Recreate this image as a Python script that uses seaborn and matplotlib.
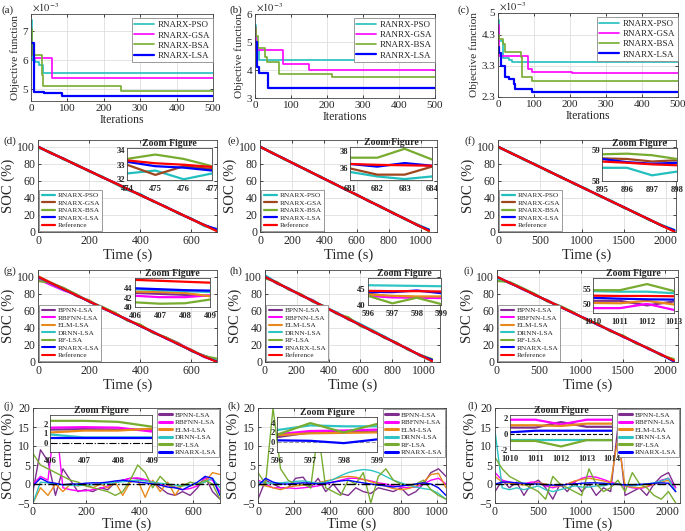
import matplotlib
matplotlib.use("Agg")
import matplotlib.pyplot as plt
import seaborn as sns

# ------------------------------------------------------------------ data
# Row 1: convergence curves (objective value, x10^-3), step breakpoints
a_it_pso = [0, 3, 12, 22, 33, 500];            a_pso = [7.38, 6.02, 5.95, 5.85, 5.58, 5.58]
a_it_gsa = [0, 8, 57, 500];                    a_gsa = [6.38, 6.08, 5.38, 5.38]
a_it_bsa = [0, 3, 27, 30, 33, 248, 500];       a_bsa = [7.10, 6.20, 6.20, 5.50, 5.12, 4.95, 4.95]
a_it_lsa = [0, 8, 35, 85, 500];                a_lsa = [6.60, 4.92, 4.87, 4.78, 4.78]

b_it_pso = [0, 3, 10, 500];                    b_pso = [5.60, 4.70, 4.35, 4.35]
b_it_gsa = [0, 3, 78, 150, 500];               b_gsa = [5.50, 4.71, 4.21, 3.99, 3.99]
b_it_bsa = [0, 3, 8, 28, 33, 68, 215, 500];    b_bsa = [5.50, 5.22, 4.77, 4.45, 4.29, 3.85, 3.74, 3.74]
b_it_lsa = [0, 5, 10, 37, 500];                b_lsa = [5.00, 4.11, 3.90, 3.34, 3.34]

c_it_pso = [0, 3, 15, 30, 40, 500];            c_pso = [4.76, 4.10, 3.55, 3.50, 3.44, 3.44]
c_it_gsa = [0, 3, 84, 95, 205, 500];           c_gsa = [4.60, 3.62, 3.20, 3.09, 3.06, 3.06]
c_it_bsa = [0, 3, 15, 20, 65, 68, 95, 500];    c_bsa = [4.30, 4.15, 4.00, 3.75, 3.60, 2.93, 2.82, 2.82]
c_it_lsa = [0, 3, 8, 20, 30, 45, 48, 95, 500]; c_lsa = [3.92, 3.70, 3.30, 2.93, 2.88, 2.71, 2.57, 2.45, 2.45]

# Row 2: SOC estimation, optimisers
d_t = [0, 50, 100, 150, 200, 250, 300, 350, 400, 450, 500, 550, 600, 650, 700]
d_ref = [100, 92.9, 85.9, 78.8, 71.7, 64.6, 57.6, 50.5, 43.4, 36.4, 29.3, 22.2, 15.1, 8.1, 1.0]
d_pso = [99.0, 93.5, 85.2, 79.5, 71.0, 65.3, 57.0, 49.2, 44.5, 36.0, 29.8, 21.5, 15.8, 7.0, 3.5]
d_gsa = [100.5, 92.5, 86.3, 78.4, 72.0, 64.2, 58.0, 50.8, 43.0, 36.7, 29.0, 22.6, 14.8, 8.4, 2.0]
d_bsa = [99.8, 93.2, 85.5, 79.1, 71.4, 64.9, 57.3, 50.2, 43.8, 36.1, 29.6, 21.9, 15.4, 7.8, 1.5]
d_lsa = [100.2, 92.7, 86.0, 78.6, 71.8, 64.5, 57.7, 50.4, 43.5, 36.3, 29.4, 22.1, 15.2, 8.2, 3.0]

e_t = [0, 75, 150, 225, 300, 375, 450, 525, 600, 675, 750, 825, 900, 975, 1050]
e_ref = [100, 93.0, 85.9, 78.9, 71.8, 64.8, 57.7, 50.7, 43.7, 36.6, 29.6, 22.5, 15.5, 8.5, 1.4]
e_pso = [99.5, 93.5, 85.3, 79.4, 71.2, 65.4, 57.1, 51.2, 43.1, 37.2, 29.0, 23.1, 14.9, 9.1, 3.0]
e_gsa = [100.5, 92.6, 86.3, 78.5, 72.2, 64.4, 58.1, 50.3, 44.1, 36.2, 30.0, 22.1, 15.9, 8.1, 2.0]
e_bsa = [100.0, 93.3, 85.6, 79.2, 71.5, 65.1, 57.4, 51.0, 43.4, 36.9, 29.3, 22.8, 15.2, 8.8, 1.0]
e_lsa = [100.2, 92.8, 86.0, 78.7, 71.9, 64.6, 57.8, 50.5, 43.8, 36.4, 29.7, 22.3, 15.6, 8.3, 2.5]

f_t = [0, 150, 300, 450, 600, 750, 900, 1050, 1200, 1350, 1500, 1650, 1800, 1950, 2100]
f_ref = [100, 92.9, 85.8, 78.7, 71.5, 64.4, 57.3, 50.2, 43.1, 36.0, 28.9, 21.8, 14.7, 7.6, 0.5]
f_pso = [99.0, 93.6, 85.1, 79.4, 70.9, 65.1, 56.6, 50.9, 42.4, 36.7, 28.2, 22.5, 14.0, 8.3, 2.5]
f_gsa = [100.4, 92.6, 86.1, 78.4, 71.9, 64.1, 57.6, 49.9, 43.4, 35.7, 29.2, 21.5, 15.0, 7.3, 1.5]
f_bsa = [100.0, 93.1, 85.6, 78.9, 71.3, 64.6, 57.1, 50.4, 42.9, 36.2, 28.7, 22.0, 14.5, 7.8, 1.0]
f_lsa = [100.2, 92.8, 85.9, 78.6, 71.6, 64.3, 57.4, 50.1, 43.2, 35.9, 29.0, 21.7, 14.8, 7.5, 2.0]

# Row 2 zoom insets
d_zx = [474, 475, 476, 477]
d_z_pso = [32.4, 32.6, 32.0, 32.4]; d_z_gsa = [33.0, 32.3, 32.9, 32.7]
d_z_bsa = [33.4, 33.7, 33.4, 32.9]; d_z_lsa = [33.2, 32.9, 32.8, 32.6]
d_z_ref = [33.3, 33.1, 33.0, 32.85]
e_zx = [681, 682, 683, 684]
e_z_pso = [35.6, 35.1, 34.8, 35.1]; e_z_gsa = [36.0, 35.3, 35.3, 36.2]
e_z_bsa = [37.2, 37.2, 38.2, 37.0]; e_z_lsa = [36.5, 36.2, 36.6, 36.3]
e_z_ref = [36.5, 36.4, 36.35, 36.3]
f_zx = [895, 896, 897, 898]
f_z_pso = [58.42, 58.42, 58.18, 58.30]; f_z_gsa = [58.72, 58.70, 58.62, 58.66]
f_z_bsa = [58.85, 58.87, 58.82, 58.70]; f_z_lsa = [58.70, 58.60, 58.55, 58.58]
f_z_ref = [58.62, 58.58, 58.53, 58.50]

# Row 3: SOC estimation, models
g_t = [0, 50, 100, 150, 200, 250, 300, 350, 400, 450, 500, 550, 600, 650, 700]
g_ref = [100, 92.8, 85.6, 78.4, 71.2, 64.0, 56.8, 49.6, 42.4, 35.2, 28.0, 20.8, 13.6, 6.4, 0.0]
g_bpnn = [98, 91.5, 86.8, 77.5, 72.0, 63.2, 57.5, 48.8, 43.0, 34.5, 28.8, 22.0, 12.8, 7.5, 2.0]
g_rbfnn = [97, 90.5, 84.0, 79.0, 70.8, 64.5, 56.2, 50.2, 42.0, 35.8, 27.5, 21.4, 14.2, 5.8, 1.0]
g_elm = [101, 93.5, 86.2, 77.8, 72.5, 63.5, 57.8, 49.0, 43.5, 34.8, 28.6, 20.2, 14.5, 6.0, 3.0]
g_drnn = [99, 92.2, 85.0, 78.8, 71.5, 64.4, 56.5, 50.0, 42.2, 35.5, 28.3, 20.5, 13.9, 6.8, 1.5]
g_rf = [95, 93.0, 87.0, 79.5, 70.5, 65.0, 58.0, 48.5, 44.0, 34.0, 29.0, 21.5, 13.0, 7.0, 4.0]
g_rnarx = [100, 92.6, 85.4, 78.2, 71.0, 63.8, 56.6, 49.4, 42.2, 35.0, 27.8, 20.6, 13.4, 6.2, 0.5]

h_t = [0, 75, 150, 225, 300, 375, 450, 525, 600, 675, 750, 825, 900, 975, 1050]
h_ref = [100, 92.9, 85.8, 78.8, 71.7, 64.6, 57.5, 50.5, 43.4, 36.3, 29.2, 22.2, 15.1, 8.0, 1.0]
h_bpnn = [101, 92.0, 86.5, 78.0, 72.8, 63.8, 58.3, 49.6, 44.2, 35.5, 29.9, 21.4, 15.8, 7.2, 3.0]
h_rbfnn = [99, 93.4, 85.2, 79.4, 71.0, 65.2, 56.9, 51.0, 42.8, 36.9, 28.6, 22.8, 14.5, 8.6, 2.0]
h_elm = [100, 92.5, 86.0, 78.2, 72.2, 64.0, 57.9, 50.0, 43.9, 35.8, 29.6, 21.7, 15.4, 7.5, 1.5]
h_drnn = [102, 93.2, 86.1, 79.1, 72.0, 65.0, 58.2, 51.3, 44.5, 37.5, 30.0, 22.6, 15.0, 7.8, 0.5]
h_rf = [98, 94.0, 84.8, 79.8, 70.6, 65.5, 56.5, 52.5, 42.0, 37.0, 28.2, 23.0, 14.2, 8.5, 3.5]
h_rnarx = [100, 92.8, 85.7, 78.7, 71.6, 64.5, 57.4, 50.4, 43.3, 36.2, 29.1, 22.1, 15.0, 7.9, 2.5]

i_t = [0, 150, 300, 450, 600, 750, 900, 1050, 1200, 1350, 1500, 1650, 1800, 1950, 2100]
i_ref = [100, 93.0, 86.0, 78.9, 71.9, 64.9, 57.9, 50.8, 43.8, 36.8, 29.8, 22.8, 15.7, 8.7, 1.7]
i_bpnn = [99, 92.4, 86.6, 78.3, 72.5, 64.3, 58.5, 50.2, 44.4, 36.2, 30.4, 22.2, 16.3, 8.1, 2.5]
i_rbfnn = [98, 93.5, 85.4, 79.5, 71.3, 65.5, 57.3, 51.4, 43.2, 37.4, 29.2, 23.4, 15.1, 9.3, 1.0]
i_elm = [100, 92.7, 86.3, 78.6, 72.2, 64.6, 58.2, 50.5, 44.1, 36.5, 30.1, 22.5, 16.0, 8.4, 3.0]
i_drnn = [97, 93.3, 85.7, 79.2, 71.6, 65.2, 57.6, 51.1, 43.5, 37.1, 29.5, 23.1, 15.4, 9.0, 0.5]
i_rf = [95, 94.0, 87.0, 80.0, 70.8, 66.0, 58.8, 49.8, 45.0, 35.8, 31.0, 21.8, 16.5, 7.8, 3.5]
i_rnarx = [100, 92.9, 85.9, 78.8, 71.8, 64.8, 57.8, 50.7, 43.7, 36.7, 29.7, 22.7, 15.6, 8.6, 0.8]

# Row 3 zoom insets
g_zx = [406, 407, 408, 409]
g_z_bpnn = [43.0, 42.8, 42.6, 42.4]; g_z_rbfnn = [42.4, 42.1, 42.1, 42.5]
g_z_elm = [43.3, 43.2, 43.0, 42.3];  g_z_drnn = [43.8, 43.6, 43.4, 43.2]
g_z_rf = [41.0, 40.7, 40.8, 41.6];   g_z_rnarx = [44.0, 43.8, 43.6, 43.5]
g_z_ref = [45.8, 45.6, 45.4, 45.2]
h_zx = [596, 597, 598, 599]
h_z_bpnn = [43.5, 42.5, 42.4, 42.3]; h_z_rbfnn = [42.8, 42.3, 42.2, 42.1]
h_z_elm = [43.2, 42.8, 42.6, 42.6];  h_z_drnn = [46.0, 45.9, 45.8, 45.7]
h_z_rf = [42.8, 40.5, 42.2, 40.3];   h_z_rnarx = [44.0, 43.9, 44.4, 43.6]
h_z_ref = [44.3, 44.2, 44.2, 44.1]
i_zx = [1010, 1011, 1012, 1013]
i_z_bpnn = [51.0, 51.0, 49.5, 50.8]; i_z_rbfnn = [48.6, 48.6, 50.0, 48.0]
i_z_elm = [50.3, 50.2, 51.0, 49.8];  i_z_drnn = [54.2, 54.0, 54.0, 53.5]
i_z_rf = [54.5, 54.5, 56.5, 54.2];   i_z_rnarx = [52.0, 51.7, 51.5, 51.4]
i_z_ref = [52.7, 52.6, 52.6, 52.5]

# Row 4: SOC errors
j_t = [0, 28, 56, 84, 112, 140, 168, 196, 224, 252, 280, 308, 336, 364, 392, 420, 448, 476, 504, 532, 560, 588, 616, 644, 672, 700]
j_bpnn = [-2, 9, 6, -3, 4, 1, -2, -1.5, -2, -1, -1.5, 0.5, 1, 1.5, 1.4, 1.0, 0.5, -1, -2.5, -3, -2, -3, -1, 2, -2, -4]
j_rbfnn = [0, 2, 1, 18, -1, -1.5, -1.8, -1.8, -1.5, -1.2, -0.5, 0.3, 1.0, 1.5, 1.6, 1.2, 0.5, 0, -0.3, -0.8, -1.5, -1.2, -0.5, 1.5, 1, -2]
j_elm = [-5, -1, -3, 0, -2, 0, -0.5, 0, -1, 0, -1, 0.5, -3, 0.5, 1, -3.5, 1, -2, 0.5, -3, 0, -0.5, 0, 0.5, 3, 2.5]
j_drnn = [-5, 0.5, 0.3, 0, -0.2, -0.3, -0.4, -0.3, -0.2, 0, 0.2, 0.4, 0.6, 0.8, 1.0, 0.8, 0.5, 0.2, 0, -0.3, -0.5, -0.3, 0, 0.5, 1.5, -1]
j_rf = [8, 5, 4, 3, 2, 1, 0.5, -0.5, -1, -1.5, -2, -3, -2, 1, 5, 3, -1, 2, 0, -1, -0.5, 0.5, 0, 1, 0, -4]
j_rnarx = [-0.5, 1.5, 0.5, 0.2, -0.2, 0, 0, 0.2, 0.3, 0.3, 0.5, 0.8, 1.0, 0.7, 0.5, 0.3, 0, -0.3, -0.8, -1, -1.5, -0.5, 0.5, 2, 1.5, -3]

k_t = [0, 42, 84, 126, 168, 210, 252, 294, 336, 378, 420, 462, 504, 546, 588, 630, 672, 714, 756, 798, 840, 882, 924, 966, 1008, 1050]
k_bpnn = [-4, 1, 0, -1, -1, 1.5, 1.8, -1, 1.5, -2, 0, -2.5, -3, -1, -2, -2.5, -1, -1.5, -2, -1, -3, -2, 0, 3, 4, 2]
k_rbfnn = [1, 0, -1, -1, -1, -1.2, -1, -0.8, -0.5, 0, 0.5, 1, 1.5, 1.5, 1.2, 0.8, 0.3, 0, -0.5, -0.8, -1, -0.8, 0, 1, 1.5, 0]
k_elm = [0, -0.5, -1, -1.5, -0.8, -0.5, -0.3, 0, 0.3, 0.8, 1.2, 1.8, 2.0, 1.8, 1.2, 0.6, 0, -0.6, -1.2, -1.5, -1.2, -0.5, 0.5, 2.5, 2.8, -1]
k_drnn = [0.5, 0.3, 0.2, 0.3, 0.5, 0.7, 0.8, 0.5, 0.2, 0.5, 1.2, 2.2, 3.0, 3.5, 3.8, 3.6, 3.0, 2.0, 1.0, 0.3, -0.3, -0.8, -1.2, -1.5, -2.5, -4]
k_rf = [3, 0, 20, 4, 1, 0, 0, -1, 14, -1, -2, -3, 1, 0, 3, -5, 2, 4, 1, 0, -0.5, 0, 1.0, -1.5, -3, -4]
k_rnarx = [-0.5, 1.5, 0.5, 0, 0, 0.2, 0.3, 0.2, 0, 0.2, 0.5, 0.8, 1.0, 0.6, 0.3, 0, -0.3, -0.5, -0.8, -0.5, -0.3, 0, 0.3, 0, -1, -3]

l_t = [0, 84, 168, 252, 336, 420, 504, 588, 672, 756, 840, 924, 1008, 1092, 1176, 1260, 1344, 1428, 1512, 1596, 1680, 1764, 1848, 1932, 2016, 2100]
l_bpnn = [-2, 1, -1, 0.5, -3, 0, 1, -1, -4, 0, -2, 0.5, -2, 0, -3, -1, -2, 15, -3, -2, -1, -3, 0, 2, 3, -1]
l_rbfnn = [3, 1, 0.5, 0, 0, 0.5, 0.5, -0.5, -1, -0.5, 0, 0.5, 1.5, 2.0, 1.8, 1.2, 0.5, 0, -0.5, -1.0, -1.2, -0.8, 0, 1.0, 1.5, -1]
l_elm = [2, 0.5, 0.2, 0, -0.3, 0, 0.3, 0, -0.5, -0.5, 0, 0.8, 1.2, 1.5, 1.2, 0.8, 0.3, 12, -0.5, -0.8, -1.0, -0.6, 0, 0.5, 1.0, -2]
l_drnn = [14, -1, -1.5, -1, -1.5, -1, -0.5, -1.5, -2, -1.5, -1, -0.5, -0.8, -0.8, -0.5, -0.5, 0, 0, -0.3, -0.5, -0.3, 0, 0.3, 0.8, 1.5, -2]
l_rf = [7, 4, 2, 1, 0, -1, -2, -4, 2, 0, -1, -2, -3, 4, 0, -2, -1, 1, -2, 3, 0, -1, -3, -4, -2, -5]
l_rnarx = [0, 0.5, 0.5, 0.3, 0.2, 0, 0, -0.2, -0.3, -0.3, -0.1, 0, 0.2, 0.3, 0.3, 0.2, 0, -0.1, -0.2, -0.2, -0.1, 0, 0.2, 0.3, 0.2, -2]

# Row 4 zoom insets
j_zx = [406, 407, 408, 409]
j_z_bpnn = [1.4, 1.45, 1.4, 1.4]; j_z_rbfnn = [1.6, 1.65, 1.6, 1.2]
j_z_elm = [1.1, 1.3, 1.3, 1.5];   j_z_drnn = [0.9, 0.6, 0.6, 0.6]
j_z_rf = [2.3, 2.3, 2.2, 1.7];    j_z_rnarx = [0.5, 0.5, 0.5, 0.5]
k_zx = [596, 597, 598, 599]
k_z_bpnn = [1.0, 2.0, 2.1, 2.2];  k_z_rbfnn = [1.6, 2.3, 2.4, 2.6]
k_z_elm = [1.4, 1.8, 1.9, 2.0];   k_z_drnn = [2.5, 3.5, 3.3, 3.3]
k_z_rf = [1.5, 4.0, 2.0, 3.8];    k_z_rnarx = [0.3, 0.2, -0.3, 0.5]
l_zx = [1010, 1011, 1012, 1013, 1014]
l_z_bpnn = [0.8, 0.8, 1.5, 0.9, 0.9];   l_z_rbfnn = [1.8, 1.8, 1.2, 1.8, 1.8]
l_z_elm = [1.1, 1.1, 1.0, 1.3, 1.3];    l_z_drnn = [-0.8, -0.8, -0.8, -0.8, -0.8]
l_z_rf = [-0.9, -0.9, -1.6, -0.8, -0.8]; l_z_rnarx = [0.2, 0.4, 0.4, 0.4, 0.4]

# ------------------------------------------------------------------ style
sns.set_theme(style="white")
plt.rcParams["font.family"] = ["Liberation Serif", "DejaVu Serif"]
plt.rcParams["mathtext.fontset"] = "stix"

C_PSO, C_GSA1, C_GSA2 = "#22bfbf", "#ff00ff", "#a0461e"
C_BSA, C_LSA, C_REF = "#77ac30", "#0000ff", "#ff0000"
C_BPNN, C_RBF, C_ELM, C_DRNN, C_RF = "#7e2f8e", "#ff00ff", "#e8891c", "#2ec4c4", "#77ac30"

W, H = 685, 531
fig = plt.figure(figsize=(W / 100, H / 100), dpi=100)


def px_axes(l, t, r, b):
    return fig.add_axes([l / W, 1 - b / H, (r - l) / W, (b - t) / H])


def style(ax, fs):
    ax.set_facecolor("white")
    ax.grid(True, color="#dedede", lw=0.6)
    ax.tick_params(direction="in", length=2.5, width=0.6, labelsize=fs, pad=2,
                   top=True, right=True, bottom=True, left=True)
    for s in ax.spines.values():
        s.set_color("#444444")
        s.set_linewidth(0.6)


def line(ax, x, y, color, lw, label=None, step=False):
    kw = dict(drawstyle="steps-post") if step else {}
    sns.lineplot(x=x, y=y, ax=ax, color=color, lw=lw, label=label,
                 estimator=None, sort=False, legend=bool(label), **kw)


def inset(rect, x, series, ylim, yticks, zero=None):
    ax = px_axes(*rect)
    ax.set_facecolor("white")
    if zero is not None:
        ax.axhline(0, color=zero[0], ls=zero[1], lw=0.8)
    for y, c in series:
        line(ax, x, y, c, 1.6)
    ax.set_xlim(x[0], x[-1])
    ax.set_ylim(*ylim)
    ax.set_xticks(x)
    ax.set_yticks(yticks)
    ax.set_xticklabels([str(v) for v in x], fontweight="bold", fontsize=6.2)
    ax.set_yticklabels([str(v) for v in yticks], fontweight="bold", fontsize=6.2)
    ax.tick_params(direction="in", length=2, width=0.5, pad=1.5)
    ax.tick_params(axis="x", pad=3.5)
    for s in ax.spines.values():
        s.set_color("#444444")
        s.set_linewidth(0.6)
    ax.set_title("Zoom Figure", fontsize=7, fontweight="bold", pad=1.5)
    ax.set_xlabel("")
    ax.set_ylabel("")
    return ax


def legend(ax, loc, fs, anchor=None, hl=1.8):
    kw = dict(loc=loc, fontsize=fs, frameon=True, fancybox=False, edgecolor="#8a8a8a",
              framealpha=1, handlelength=hl, handletextpad=0.4, borderpad=0.3,
              labelspacing=0.2, borderaxespad=0.2)
    if anchor is not None:
        kw["bbox_to_anchor"] = anchor
        kw["borderaxespad"] = 0
    lg = ax.legend(**kw)
    lg.get_frame().set_linewidth(0.6)


# ------------------------------------------------------------------ row 1
row1 = [
    ("(a)", (31, 14, 213, 101), [(a_it_pso, a_pso), (a_it_gsa, a_gsa), (a_it_bsa, a_bsa), (a_it_lsa, a_lsa)],
     (4.6, 7.6), [5, 6, 7], ["5", "6", "7"], ["RNARX-PSO", "RNARX-GSA", "RNARX-BSA", "RNARX-LSA"], 2),
    ("(b)", (255, 14, 435, 98), [(b_it_pso, b_pso), (b_it_gsa, b_gsa), (b_it_bsa, b_bsa), (b_it_lsa, b_lsa)],
     (3.0, 6.0), [3, 4, 5, 6], ["3", "4", "5", "6"], ["RANRX-PSO", "RANRX-GSA", "RNARX-BSA", "RANRX-LSA"], 230),
    ("(c)", (498, 13, 678, 97), [(c_it_pso, c_pso), (c_it_gsa, c_gsa), (c_it_bsa, c_bsa), (c_it_lsa, c_lsa)],
     (2.3, 5.0), [2.3, 3.3, 4.3, 5.0], ["2.3", "3.3", "4.3", "5"], ["RNARX-PSO", "RNARX-GSA", "RNARX-BSA", "RNARX-LSA"], 457),
]
for tag, rect, ser, ylim, yt, ytl, labs, tx in row1:
    ax = px_axes(*rect)
    style(ax, 8)
    cols = [C_PSO, C_GSA1, C_BSA, C_LSA]
    for (xx, yy), c, lb in zip(ser, cols, labs):
        line(ax, xx, yy, c, 1.6 if c == C_LSA else 1.2, label=lb, step=True)
    ax.set_xlim(0, 500)
    ax.set_ylim(*ylim)
    ax.set_xticks([0, 100, 200, 300, 400, 500])
    ax.set_yticks(yt)
    ax.set_yticklabels(ytl)
    ax.set_xlabel("Iterations", fontsize=8.5, labelpad=1)
    ax.set_ylabel("Objective function", fontsize=8.2, labelpad=2)
    ax.text(0.005, 1.0, r"$\times10^{-3}$", transform=ax.transAxes, fontsize=7.5,
            ha="left", va="bottom")
    legend(ax, "upper right", 6.5, anchor=(1.0, 0.95), hl=2.2)
    fig.text(tx / W, 1 - 10 / H, tag, fontsize=8, ha="left", va="center")

# ------------------------------------------------------------------ row 2
row2 = [
    ("(d)", (38, 140, 217, 232), d_t, [d_pso, d_gsa, d_bsa, d_lsa, d_ref], 700, [0, 200, 400, 600], 4,
     (127, 148, 212, 180), d_zx, [d_z_pso, d_z_gsa, d_z_bsa, d_z_lsa, d_z_ref], (31.95, 34.15), [32, 33, 34]),
    ("(e)", (260, 140, 437, 232), e_t, [e_pso, e_gsa, e_bsa, e_lsa, e_ref], 1100, [0, 200, 400, 600, 800, 1000], 227,
     (350, 147, 432, 180), e_zx, [e_z_pso, e_z_gsa, e_z_bsa, e_z_lsa, e_z_ref], (34.7, 38.4), [36, 38]),
    ("(f)", (498, 140, 676, 232), f_t, [f_pso, f_gsa, f_bsa, f_lsa, f_ref], 2120, [0, 500, 1000, 1500, 2000], 465,
     (602, 148, 677, 181), f_zx, [f_z_pso, f_z_gsa, f_z_bsa, f_z_lsa, f_z_ref], (58.0, 59.05), [58, 59]),
]
labs2 = ["RNARX-PSO", "RNARX-GSA", "RNARX-BSA", "RNARX-LSA", "Reference"]
cols2 = [C_PSO, C_GSA2, C_BSA, C_LSA, C_REF]
for tag, rect, t, ser, xmax, xt, tx, irect, zx, zser, zyl, zyt in row2:
    ax = px_axes(*rect)
    style(ax, 8.5)
    for yy, c, lb in zip(ser, cols2, labs2):
        line(ax, t, yy, c, 1.6, label=lb)
    ax.set_xlim(0, xmax)
    ax.set_ylim(0, 108)
    ax.set_xticks(xt)
    ax.set_yticks([0, 20, 40, 60, 80, 100])
    ax.set_xlabel("Time (s)", fontsize=10.5, labelpad=1)
    ax.set_ylabel("SOC (%)", fontsize=10.5, labelpad=2)
    legend(ax, "lower left", 5.2)
    fig.text(tx / W, 1 - 141 / H, tag, fontsize=8, ha="left", va="center")
    inset(irect, zx, list(zip(zser, cols2)), zyl, zyt)

# ------------------------------------------------------------------ row 3
labs3 = ["BPNN-LSA", "RBFNN-LSA", "ELM-LSA", "DRNN-LSA", "RF-LSA", "RNARX-LSA", "Reference"]
cols3 = [C_BPNN, C_RBF, C_ELM, C_DRNN, C_RF, C_LSA, C_REF]
row3 = [
    ("(g)", (38, 270, 217, 362), g_t, [g_bpnn, g_rbfnn, g_elm, g_drnn, g_rf, g_rnarx, g_ref], 700, [0, 200, 400, 600], 4,
     (135, 278, 210, 307), g_zx, [g_z_bpnn, g_z_rbfnn, g_z_elm, g_z_drnn, g_z_rf, g_z_rnarx, g_z_ref], (40, 46.2), [40, 42, 44]),
    ("(h)", (265, 270, 440, 362), h_t, [h_bpnn, h_rbfnn, h_elm, h_drnn, h_rf, h_rnarx, h_ref], 1100, [0, 200, 400, 600, 800, 1000], 229,
     (368, 278, 441, 305), h_zx, [h_z_bpnn, h_z_rbfnn, h_z_elm, h_z_drnn, h_z_rf, h_z_rnarx, h_z_ref], (40, 48.2), [40, 45]),
    ("(i)", (497, 270, 678, 362), i_t, [i_bpnn, i_rbfnn, i_elm, i_drnn, i_rf, i_rnarx, i_ref], 2150, [0, 500, 1000, 1500, 2000], 464,
     (593, 278, 674, 313), i_zx, [i_z_bpnn, i_z_rbfnn, i_z_elm, i_z_drnn, i_z_rf, i_z_rnarx, i_z_ref], (47, 58.5), [50, 55]),
]
for tag, rect, t, ser, xmax, xt, tx, irect, zx, zser, zyl, zyt in row3:
    ax = px_axes(*rect)
    style(ax, 8.5)
    for yy, c, lb in zip(ser, cols3, labs3):
        line(ax, t, yy, c, 1.5, label=lb)
    ax.set_xlim(0, xmax)
    ax.set_ylim(0, 108)
    ax.set_xticks(xt)
    ax.set_yticks([0, 20, 40, 60, 80, 100])
    ax.set_xlabel("Time (s)", fontsize=10.5, labelpad=1)
    ax.set_ylabel("SOC (%)", fontsize=10.5, labelpad=2)
    legend(ax, "lower left", 5.2)
    fig.text(tx / W, 1 - 271 / H, tag, fontsize=8, ha="left", va="center")
    inset(irect, zx, list(zip(zser, cols3)), zyl, zyt)

# ------------------------------------------------------------------ row 4
labs4 = labs3[:6]
cols4 = cols3[:6]
row4 = [
    ("(j)", (33, 408, 220, 503), j_t, [j_bpnn, j_rbfnn, j_elm, j_drnn, j_rf, j_rnarx], 700, [0, 200, 400, 600], 4,
     (50, 415, 152, 452), j_zx, [j_z_bpnn, j_z_rbfnn, j_z_elm, j_z_drnn, j_z_rf, j_z_rnarx], (-0.9, 2.9), [0, 1, 2], ("black", "-.")),
    ("(k)", (258, 408, 446, 503), k_t, [k_bpnn, k_rbfnn, k_elm, k_drnn, k_rf, k_rnarx], 1050, [0, 200, 400, 600, 800, 1000], 228,
     (277, 417, 377, 452), k_zx, [k_z_bpnn, k_z_rbfnn, k_z_elm, k_z_drnn, k_z_rf, k_z_rnarx], (-2.2, 5.3), [-2, 0, 2, 4], ("#999999", "--")),
    ("(l)", (495, 408, 680, 503), l_t, [l_bpnn, l_rbfnn, l_elm, l_drnn, l_rf, l_rnarx], 2150, [0, 500, 1000, 1500, 2000], 467,
     (510, 415, 612, 450), l_zx, [l_z_bpnn, l_z_rbfnn, l_z_elm, l_z_drnn, l_z_rf, l_z_rnarx], (-2.05, 2.4), [-2, 0, 2], ("black", "--")),
]
for tag, rect, t, ser, xmax, xt, tx, irect, zx, zser, zyl, zyt, zst in row4:
    ax = px_axes(*rect)
    style(ax, 8.5)
    for yy, c, lb in zip(ser, cols4, labs4):
        line(ax, t, yy, c, 1.0, label=lb)
    ax.axhline(0, color="black", ls="-.", lw=1.0)
    ax.set_xlim(0, xmax)
    ax.set_ylim(-5, 20)
    ax.set_xticks(xt)
    ax.set_yticks([-5, 0, 5, 10, 15, 20])
    ax.set_xlabel("Time (s)", fontsize=10.5, labelpad=0)
    ax.set_ylabel("SOC error (%)", fontsize=10.5, labelpad=2)
    legend(ax, "upper right", 5.2)
    for lh in ax.get_legend().get_lines():
        lh.set_linewidth(2.2)
    fig.text(tx / W, 1 - 406 / H, tag, fontsize=8, ha="left", va="center")
    inset(irect, zx, list(zip(zser, cols4)), zyl, zyt, zero=zst)

fig.savefig("out.png", dpi=100)
